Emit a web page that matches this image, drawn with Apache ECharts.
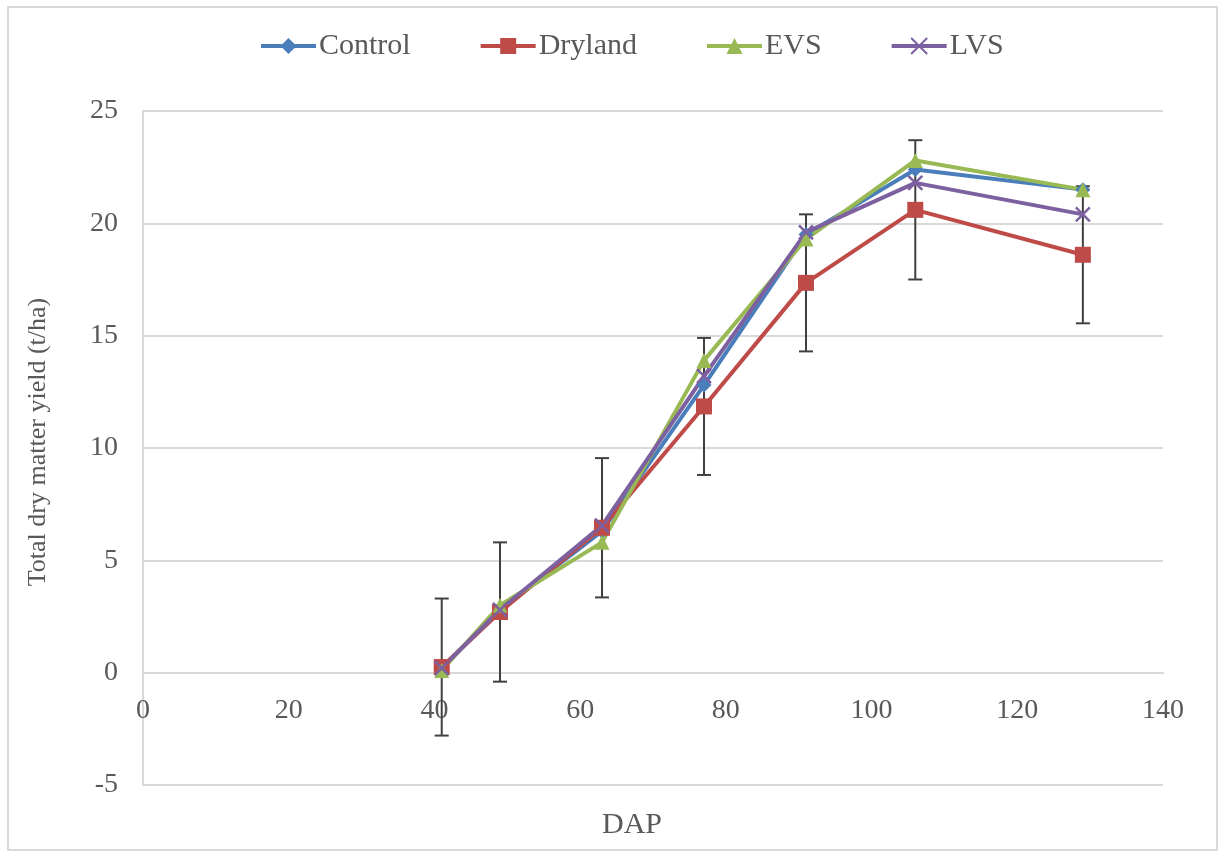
<!DOCTYPE html>
<html>
<head>
<meta charset="utf-8">
<script src="https://cdn.jsdelivr.net/npm/echarts@6/dist/echarts.min.js"></script>
<style>
  html, body { margin: 0; padding: 0; background: #fff; }
  #chart { width: 1220px; height: 855px; }
</style>
</head>
<body>
<div id="chart"></div>
<script>
// ---- Data ----
const dap = [41, 49, 63, 77, 91, 106, 129];
const seriesNames = ['Control', 'Dryland', 'EVS', 'LVS'];
const control = [0.2, 2.8, 6.3, 12.8, 19.5, 22.4, 21.5];
const dryland = [0.25, 2.7, 6.45, 11.85, 17.35, 20.6, 18.6];
const evs = [0.1, 3.0, 5.8, 13.9, 19.3, 22.8, 21.5];
const lvs = [0.2, 2.8, 6.55, 13.2, 19.6, 21.8, 20.4];
const drylandErr = [3.05, 3.1, 3.1, 3.05, 3.05, 3.1, 3.05];
const xTitle = 'DAP';
const yTitle = 'Total dry matter yield (t/ha)';

const FONT = '"Liberation Serif", "Times New Roman", serif';
const TXT = '#595959';
const GRID = '#d9d9d9';
const colors = ['#4a7ebb', '#be4b48', '#98b954', '#7d60a0'];

function pairs(ys) { return dap.map((x, i) => [x, ys[i]]); }
const errData = dap.map((x, i) => [x, dryland[i] - drylandErr[i], dryland[i] + drylandErr[i]]);

const chart = echarts.init(document.getElementById('chart'), null, { renderer: 'canvas' });

const lineBase = (name, data, color, symbol, size, extraItem) => ({
  name: name,
  type: 'line',
  data: data,
  symbol: symbol,
  symbolSize: size,
  z: 3,
  lineStyle: { color: color, width: 4 },
  itemStyle: Object.assign({ color: color }, extraItem || {}),
  emphasis: { disabled: true },
  animation: false
});

chart.setOption({
  animation: false,
  backgroundColor: '#fff',
  color: colors,
  textStyle: { fontFamily: FONT },
  grid: { left: 143, right: 57, top: 111, bottom: 70, containLabel: false },
  legend: {
    top: 26,
    left: 254,
    itemWidth: 55,
    itemHeight: 20,
    itemGap: 68,
    lineStyle: { width: 4 },
    textStyle: { fontFamily: FONT, fontSize: 30, color: TXT, padding: [0, 0, 0, -2] },
    data: seriesNames
  },
  xAxis: {
    type: 'value',
    min: 0, max: 140, interval: 20,
    axisLine: { show: true, lineStyle: { color: GRID, width: 2 } },
    axisTick: { show: false },
    splitLine: { show: false },
    // labels sit just under the y = 0 line, as in the reference
    axisLabel: { fontFamily: FONT, fontSize: 28, color: TXT, margin: -88 }
  },
  yAxis: {
    type: 'value',
    min: -5, max: 25, interval: 5,
    axisLine: { show: true, onZero: false, lineStyle: { color: GRID, width: 2 } },
    axisTick: { show: false },
    splitLine: { show: true, lineStyle: { color: GRID, width: 2 } },
    axisLabel: { fontFamily: FONT, fontSize: 28, color: TXT, margin: 25 }
  },
  graphic: [
    { type: 'rect', shape: { x: 8, y: 7, width: 1209, height: 843 }, style: { fill: 'none', stroke: GRID, lineWidth: 2 }, silent: true, z: 0 },
    { type: 'text', x: 632, y: 825, style: { text: xTitle, font: '30px ' + FONT, fill: TXT, textAlign: 'center', textVerticalAlign: 'middle' }, silent: true },
    { type: 'text', x: 38, y: 442, rotation: Math.PI / 2, style: { text: yTitle, font: '26px ' + FONT, fill: TXT, textAlign: 'center', textVerticalAlign: 'middle' }, silent: true }
  ],
  series: [
    {
      name: 'DrylandErr',
      type: 'custom',
      data: errData,
      z: 2,
      silent: true,
      animation: false,
      renderItem: function (params, api) {
        const x = api.value(0);
        const lo = api.coord([x, api.value(1)]);
        const hi = api.coord([x, api.value(2)]);
        const h = 7;
        const st = { stroke: '#404040', lineWidth: 2 };
        return {
          type: 'group',
          children: [
            { type: 'line', shape: { x1: lo[0], y1: lo[1], x2: hi[0], y2: hi[1] }, style: st },
            { type: 'line', shape: { x1: lo[0] - h, y1: lo[1], x2: lo[0] + h, y2: lo[1] }, style: st },
            { type: 'line', shape: { x1: hi[0] - h, y1: hi[1], x2: hi[0] + h, y2: hi[1] }, style: st }
          ]
        };
      }
    },
    lineBase('Control', pairs(control), colors[0], 'diamond', 15),
    lineBase('Dryland', pairs(dryland), colors[1], 'rect', 16),
    lineBase('EVS', pairs(evs), colors[2], 'triangle', 15),
    lineBase('LVS', pairs(lvs), colors[3], 'path://M0,0L10,10M10,0L0,10', 14, { borderColor: colors[3], borderWidth: 2.5 })
  ]
});
</script>
</body>
</html>
